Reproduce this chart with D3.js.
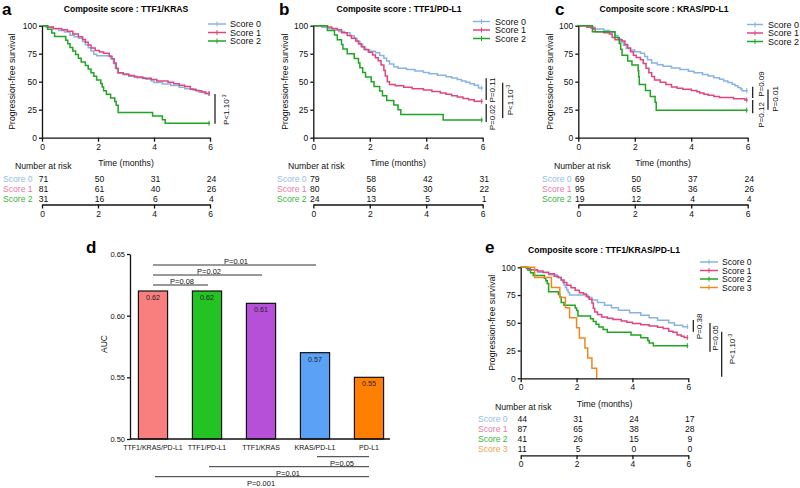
<!DOCTYPE html>
<html>
<head>
<meta charset="utf-8">
<script src="https://cdn.jsdelivr.net/npm/d3@7"></script>
<style>
  body { margin: 0; background: #fff; }
  svg { display: block; font-family: "Liberation Sans", Arial, Helvetica, sans-serif; }
</style>
</head>
<body>
<svg id="chart" width="800" height="488"></svg>
<script>
// ---------------- shared ----------------
const timeTicks = [0, 2, 4, 6];
const survivalTicks = [0, 25, 50, 75, 100];
const scoreLabels = ["Score 0", "Score 1", "Score 2", "Score 3"];

// ---------------- panel a : TTF1/KRAS ----------------
const aTitle = "Composite score : TTF1/KRAS";
const aScore0 = [[0,100],[0.15,98.6],[0.4,97.2],[0.6,95.8],[0.8,94.4],[1.0,91.5],[1.15,90.1],[1.3,88.7],[1.45,85.9],[1.55,83.1],[1.65,80.3],[1.75,77.5],[1.85,74.6],[1.95,73.2],[2.45,70.4],[2.55,66.2],[2.62,62],[2.7,57.7],[2.9,56.3],[3.1,54.9],[3.4,53.5],[3.7,52.1],[3.9,50.7],[4.0,49.3],[4.3,47.9],[4.6,46.5],[4.9,45.1],[5.1,43.7],[5.4,42.3],[5.6,40.8],[5.8,39.4]];
const aScore1 = [[0,100],[0.2,98.8],[0.4,97.5],[0.7,96.3],[0.9,95.1],[1.1,92.6],[1.3,90.1],[1.45,87.7],[1.55,85.2],[1.65,82.7],[1.75,80.2],[1.9,77.8],[2.05,76.5],[2.2,75.3],[2.4,72.8],[2.5,70.4],[2.58,66.7],[2.65,61.7],[2.72,58],[2.9,56.8],[3.1,55.6],[3.3,54.3],[3.6,53.1],[3.9,51.9],[4.1,50.6],[4.5,49.4],[4.7,48.1],[4.9,46.9],[5.1,45.7],[5.3,43.2],[5.5,42],[5.7,40.7],[5.85,39.5]];
const aScore2 = [[0,100],[0.2,96.8],[0.35,93.5],[0.45,90.3],[0.85,87.1],[0.92,83.9],[1.0,80.6],[1.1,77.4],[1.2,74.2],[1.3,71],[1.4,67.7],[1.55,64.5],[1.65,61.3],[1.75,58.1],[1.85,54.8],[1.95,51.6],[2.1,48.4],[2.15,45.2],[2.2,41.9],[2.3,38.7],[2.45,35.5],[2.6,32.3],[2.65,29],[2.72,22.6],[3.95,19.4],[4.3,16.1],[4.4,12.9]];
const aRisk0 = [71, 50, 31, 24];
const aRisk1 = [81, 61, 40, 26];
const aRisk2 = [31, 16, 6, 4];
const aPvalues = [["P<1.10", "-3", 39, 12.5]];

// ---------------- panel b : TTF1/PD-L1 ----------------
const bTitle = "Composite score : TTF1/PD-L1";
const bScore0 = [[0,100],[0.3,98.7],[0.5,97.5],[0.7,96.2],[0.9,94.9],[1.1,93.7],[1.3,91.1],[1.45,88.6],[1.55,86.1],[1.65,83.5],[1.75,81],[1.85,78.5],[2.0,77.2],[2.2,75.9],[2.35,73.4],[2.5,70.9],[2.6,68.4],[2.7,65.8],[2.85,63.3],[3.0,62],[3.3,60.8],[3.6,59.5],[3.9,58.2],[4.1,57],[4.4,55.7],[4.7,54.4],[4.9,53.2],[5.1,51.9],[5.25,50.6],[5.4,49.4],[5.55,48.1],[5.7,46.8],[5.85,44.3]];
const bScore1 = [[0,100],[0.5,98.8],[0.65,97.5],[0.85,96.3],[1.0,93.8],[1.2,91.3],[1.35,88.8],[1.5,86.3],[1.6,83.8],[1.7,81.3],[1.8,78.8],[1.95,76.3],[2.1,73.8],[2.2,71.3],[2.3,68.8],[2.4,65],[2.5,60],[2.55,55],[2.62,50],[2.7,47.5],[2.9,46.3],[3.2,45],[3.5,43.8],[3.9,42.5],[4.2,41.3],[4.5,40],[4.7,38.8],[4.9,37.5],[5.1,36.3],[5.3,35],[5.5,33.8],[5.7,32.5]];
const bScore2 = [[0,100],[0.5,95.8],[0.75,91.7],[0.85,87.5],[1.0,83.3],[1.05,79.2],[1.2,75],[1.45,70.8],[1.6,66.7],[1.65,62.5],[1.75,58.3],[1.85,54.2],[2.05,50],[2.15,45.8],[2.35,41.7],[2.45,37.5],[2.6,33.3],[2.85,29.2],[3.0,25],[3.1,20.8],[4.6,15.8]];
const bRisk0 = [79, 58, 42, 31];
const bRisk1 = [80, 56, 30, 22];
const bRisk2 = [24, 13, 5, 1];
const bPvalues = [["P=0.11", "", 53, 33.7], ["P=0.02", "", 30, 14], ["P<1.10", "-3", 49, 17.6]];

// ---------------- panel c : KRAS/PD-L1 ----------------
const cTitle = "Composite score : KRAS/PD-L1";
const cScore0 = [[0,100],[0.3,98.6],[0.6,97.1],[0.9,95.7],[1.1,94.2],[1.3,91.3],[1.4,88.4],[1.5,85.5],[1.6,82.6],[1.7,79.7],[1.85,78.3],[2.0,76.8],[2.2,75.4],[2.35,72.5],[2.45,69.6],[2.6,66.7],[2.8,65.2],[3.0,63.8],[3.3,62.3],[3.6,60.9],[3.9,59.4],[4.1,58],[4.4,56.5],[4.6,55.1],[4.8,53.6],[5.0,52.2],[5.15,50.7],[5.3,49.3],[5.45,47.8],[5.55,46.4],[5.65,44.9],[5.75,43.5],[5.8,42]];
const cScore1 = [[0,100],[0.3,98.9],[0.45,97.9],[0.55,96.8],[0.6,94.7],[0.9,93.7],[1.1,92.6],[1.2,89.5],[1.3,87.4],[1.55,86.3],[1.65,83.2],[1.75,80],[1.85,76.8],[1.95,73.7],[2.05,71.6],[2.2,69.5],[2.3,66.3],[2.4,62.1],[2.5,57.9],[2.6,54.7],[2.7,51.6],[2.9,49.5],[3.1,47.4],[3.3,45.3],[3.5,44.2],[3.7,43.2],[4.0,42.1],[4.2,41.1],[4.3,40],[4.45,38.9],[4.6,37.9],[4.8,36.8],[5.0,35.8],[5.5,34.7],[5.9,33.7]];
const cScore2 = [[0,100],[0.5,94.7],[1.3,89.5],[1.45,84.2],[1.5,78.9],[1.55,73.7],[1.75,68.4],[1.9,65],[2.12,59.7],[2.14,54.4],[2.16,47.4],[2.38,42.1],[2.55,36.8],[2.72,31.6],[2.76,24.6]];
const cRisk0 = [69, 50, 37, 24];
const cRisk1 = [95, 65, 36, 26];
const cRisk2 = [19, 12, 4, 4];
const cPvalues = [["P=0.09", "", 45.5, 35.4], ["P=0.12", "", 33.7, 21.8], ["P=0.01", "", 43, 25]];

// ---------------- panel e : TTF1/KRAS/PD-L1 ----------------
const eTitle = "Composite score : TTF1/KRAS/PD-L1";
const eScore0 = [[0,100],[0.3,97.7],[0.6,95.5],[1.0,93.2],[1.3,90.9],[1.45,88.6],[1.5,86.4],[1.55,84.1],[1.6,81.8],[1.65,79.5],[1.7,77.3],[1.75,75],[2.4,72.7],[2.55,70.5],[2.75,68.2],[3.0,65.9],[3.25,63.6],[3.5,61.4],[3.9,59.1],[4.3,56.8],[4.6,54.5],[4.9,52.3],[5.3,50],[5.5,47.7],[5.8,46.5]];
const eScore1 = [[0,100],[0.2,98.9],[0.35,97.7],[0.6,96.6],[0.8,95.4],[1.0,94.3],[1.2,92],[1.35,90.8],[1.45,88.5],[1.55,86.2],[1.65,83.9],[1.8,81.6],[1.95,79.3],[2.1,77],[2.25,75.9],[2.35,73.6],[2.45,71.3],[2.55,67.8],[2.6,63.2],[2.65,59.8],[2.75,57.5],[2.9,55.2],[3.1,54],[3.3,52.9],[3.6,51.7],[3.8,50.6],[4.0,49.4],[4.3,48.3],[4.6,47.1],[4.9,46],[5.1,44.8],[5.3,42.5],[5.45,41.4],[5.6,39.1],[5.75,37.9],[5.85,36.8]];
const eScore2 = [[0,100],[0.25,97.6],[0.35,95.1],[0.45,92.7],[0.85,90.2],[0.9,87.8],[0.95,85.4],[1.0,78],[1.35,75.6],[1.4,73.2],[1.45,68.3],[1.55,65.9],[1.95,63.4],[2.0,61],[2.05,56.1],[2.5,53.7],[2.6,51.2],[2.7,48.8],[2.8,46.3],[2.95,43.9],[3.1,41.5],[3.95,39],[4.3,36.6],[4.55,34.1],[4.6,31.7],[4.75,29.3]];
const eScore3 = [[0,100],[0.5,90.9],[1.1,81.8],[1.4,72.7],[1.6,63.6],[1.75,54.5],[2.0,45.5],[2.1,36.4],[2.3,27.3],[2.4,18.2],[2.55,9.1],[2.72,0]];
const eRisk0 = [44, 31, 24, 17];
const eRisk1 = [87, 65, 38, 28];
const eRisk2 = [41, 26, 15, 9];
const eRisk3 = [11, 5, 0, 0];
const ePvalues = [["P=0.38", "", 52.5, 42], ["P=0.05", "", 49.8, 24], ["P<1.10", "-3", 42, 1.4]];

// ---------------- panel d : AUC ----------------
const aucModels = ["TTF1/KRAS/PD-L1", "TTF1/PD-L1", "TTF1/KRAS", "KRAS/PD-L1", "PD-L1"];
const aucValues = [0.62, 0.62, 0.61, 0.57, 0.55];
const aucTicks = [0.50, 0.55, 0.60, 0.65];
const aucCompareTop = [[0, 1, "P=0.08"], [0, 2, "P=0.02"], [0, 3, "P=0.01"]];
const aucCompareBottom = [[3, 4, "P=0.05"], [1, 4, "P=0.01"], [0, 4, "P=0.001"]];

// ---------------- styles ----------------
const curveColors = ["#88b4e2", "#e0457c", "#22a424", "#f0891c"];
const riskLabelColors = ["#95bde6", "#e67ea8", "#3db53d", "#f2a452"];
const barColors = ["#f97f7f", "#22c322", "#b650d8", "#5ba2f6", "#ff8000"];

const svg = d3.select("#chart");

function styleAxis(sel, fs) {
  sel.selectAll("path.domain, line").attr("stroke", "#111").attr("stroke-width", 1.3);
  sel.selectAll("text").attr("font-size", fs).attr("fill", "#111");
}

function drawKM(p) {
  const g = svg.append("g");
  const x = d3.scaleLinear().domain([0, 6]).range([p.x0, p.x1]);
  const y = d3.scaleLinear().domain([0, 100]).range([p.yb, p.yt]);
  const fmt = d3.format("d");

  // panel letter + title
  g.append("text").attr("x", p.letterX).attr("y", p.letterY).attr("font-size", 17)
    .attr("font-weight", "bold").text(p.letter);
  g.append("text").attr("x", p.titleX).attr("y", p.titleY).attr("text-anchor", "middle")
    .attr("font-size", p.titleFs).attr("font-weight", "bold").text(p.title);

  // curves
  const line = d3.line().x(d => x(d[0])).y(d => y(d[1])).curve(d3.curveStepAfter);
  p.curves.forEach((c, i) => {
    const last = c[c.length - 1];
    const pts = last[1] > 0 ? c.concat([[6, last[1]]]) : c;
    g.append("path").attr("d", line(pts)).attr("fill", "none")
      .attr("stroke", curveColors[i]).attr("stroke-width", 1.5);
    if (last[1] > 0) {
      g.append("line").attr("x1", x(6) - 1).attr("x2", x(6) - 1)
        .attr("y1", y(last[1]) - 2.5).attr("y2", y(last[1]) + 2.5)
        .attr("stroke", curveColors[i]).attr("stroke-width", 1);
    }
  });

  // axes
  const ay = g.append("g").attr("transform", `translate(${p.x0},0)`)
    .call(d3.axisLeft(y).tickValues(survivalTicks).tickFormat(fmt).tickSize(3).tickSizeOuter(0).tickPadding(2));
  styleAxis(ay, p.tickFs);
  const ax = g.append("g").attr("transform", `translate(0,${p.yb})`)
    .call(d3.axisBottom(x).tickValues(timeTicks).tickFormat(fmt).tickSize(4).tickSizeOuter(0).tickPadding(2));
  styleAxis(ax, p.tickFs);

  g.append("text")
    .attr("transform", `translate(${p.ylabX},${(p.yt + p.yb) / 2}) rotate(-90)`)
    .attr("text-anchor", "middle").attr("dy", "0.35em").attr("font-size", p.labelFs)
    .attr("fill", "#111").text("Progression-free survival");
  g.append("text").attr("x", (p.x0 + p.x1) / 2).attr("y", p.timeY).attr("text-anchor", "middle")
    .attr("font-size", p.labelFs).attr("fill", "#111").text("Time (months)");

  // legend
  p.curves.forEach((c, i) => {
    const ly = p.legY[i];
    g.append("line").attr("x1", p.legX0).attr("x2", p.legX1).attr("y1", ly).attr("y2", ly)
      .attr("stroke", curveColors[i]).attr("stroke-width", 1.5);
    g.append("line").attr("x1", (p.legX0 + p.legX1) / 2).attr("x2", (p.legX0 + p.legX1) / 2)
      .attr("y1", ly - 2.5).attr("y2", ly + 2.5).attr("stroke", curveColors[i]).attr("stroke-width", 1);
    g.append("text").attr("x", p.legTX).attr("y", ly).attr("dy", "0.35em")
      .attr("font-size", p.legFs).attr("fill", "#111").text(scoreLabels[i]);
  });

  // p-values
  p.pvals.forEach((pv, i) => {
    const L = p.pLayout[i];
    const lx = x(6) + L.dx;
    g.append("line").attr("x1", lx).attr("x2", lx).attr("y1", y(pv[2])).attr("y2", y(pv[3]))
      .attr("stroke", "#111").attr("stroke-width", 1.2);
    const t = g.append("text")
      .attr("transform", `translate(${x(6) + L.tx},${y(L.tc)}) rotate(-90)`)
      .attr("text-anchor", "middle").attr("dy", "0.35em").attr("font-size", p.pFs).attr("fill", "#111");
    t.append("tspan").text(pv[0]);
    if (pv[1]) t.append("tspan").attr("dy", "-3").attr("font-size", p.pFs * 0.7).text(pv[1]);
  });

  // number at risk table
  g.append("text").attr("x", p.nrX).attr("y", p.nrY).attr("font-size", p.labelFs)
    .attr("fill", "#111").text("Number at risk");
  p.risks.forEach((r, i) => {
    const ry = p.riskY0 + i * p.riskDy;
    g.append("text").attr("x", p.riskLabX).attr("y", ry).attr("font-size", p.riskFs)
      .attr("fill", riskLabelColors[i]).text(scoreLabels[i]);
    r.forEach((v, j) => {
      g.append("text").attr("x", x(timeTicks[j]) + 1.5).attr("y", ry).attr("text-anchor", "middle")
        .attr("font-size", p.riskFs).attr("fill", "#111").text(v);
    });
  });
  const rax = g.append("g").attr("transform", `translate(0,${p.riskAxisY})`)
    .call(d3.axisBottom(x).tickValues(timeTicks).tickFormat(fmt).tickSize(4).tickSizeOuter(0).tickPadding(2));
  styleAxis(rax, p.tickFs);
}

const common = { yt: 25.7, yb: 137.7, titleY: 12, titleFs: 8.6, tickFs: 8.5, labelFs: 8.7,
  legFs: 9, pFs: 8, riskFs: 8.6, timeY: 166, nrY: 169, riskY0: 182, riskDy: 10, riskAxisY: 204.5 };

drawKM(Object.assign({}, common, {
  letter: "a", letterX: 2, letterY: 15, title: aTitle, titleX: 126,
  x0: 42, x1: 210, ylabX: 12,
  curves: [aScore0, aScore1, aScore2], risks: [aRisk0, aRisk1, aRisk2],
  legX0: 208, legX1: 226, legTX: 230, legY: [24, 32.5, 41],
  pvals: aPvalues, pLayout: [{ dx: 5, tx: 16, tc: 25 }],
  nrX: 15, riskLabX: 3
}));

drawKM(Object.assign({}, common, {
  letter: "b", letterX: 279, letterY: 15, title: bTitle, titleX: 399,
  x0: 313.3, x1: 482.7, ylabX: 285,
  curves: [bScore0, bScore1, bScore2], risks: [bRisk0, bRisk1, bRisk2],
  legX0: 473, legX1: 490, legTX: 495, legY: [21.5, 30, 38.5],
  pvals: bPvalues, pLayout: [{ dx: 3.5, tx: 9, tc: 42.6 }, { dx: 3.5, tx: 9, tc: 18 }, { dx: 20, tx: 27, tc: 33.7 }],
  nrX: 288, riskLabX: 277
}));

drawKM(Object.assign({}, common, {
  letter: "c", letterX: 555, letterY: 15, title: cTitle, titleX: 664,
  x0: 578.3, x1: 747.7, ylabX: 550,
  curves: [cScore0, cScore1, cScore2], risks: [cRisk0, cRisk1, cRisk2],
  legX0: 747, legX1: 763, legTX: 768, legY: [24.5, 33, 41.5],
  pvals: cPvalues, pLayout: [{ dx: 5, tx: 13.3, tc: 47.9 }, { dx: 5, tx: 13.3, tc: 20.3 }, { dx: 20.3, tx: 27.3, tc: 34.6 }],
  nrX: 554, riskLabX: 542
}));

drawKM(Object.assign({}, common, {
  letter: "e", letterX: 485, letterY: 253, title: eTitle, titleX: 604, titleY: 253,
  x0: 520.7, x1: 688.3, yt: 267.3, yb: 378.3, ylabX: 492,
  curves: [eScore0, eScore1, eScore2, eScore3], risks: [eRisk0, eRisk1, eRisk2, eRisk3],
  legX0: 700, legX1: 718, legTX: 722, legY: [262, 270.5, 279, 287.5], legFs: 8.6,
  pvals: ePvalues, pLayout: [{ dx: 5, tx: 10.7, tc: 46.7 }, { dx: 21.7, tx: 26.4, tc: 36.3 }, { dx: 33.4, tx: 44.2, tc: 26.4 }],
  timeY: 407, nrX: 495, nrY: 409.5, riskLabX: 478, riskY0: 422, riskDy: 10, riskAxisY: 455.3
}));

// ---------------- panel d ----------------
(function drawAUC() {
  const g = svg.append("g");
  const xb = d3.scaleBand().domain(aucModels).range([126, 396]).paddingInner(0.46).paddingOuter(0.23);
  const yb = d3.scaleLinear().domain([0.5, 0.65]).range([439, 254]);
  const axisX = 130;

  g.append("text").attr("x", 86).attr("y", 253).attr("font-size", 17).attr("font-weight", "bold").text("d");

  aucModels.forEach((m, i) => {
    g.append("rect").attr("x", xb(m)).attr("y", yb(aucValues[i]))
      .attr("width", xb.bandwidth()).attr("height", yb(0.5) - yb(aucValues[i]))
      .attr("fill", barColors[i]).attr("stroke", "#111").attr("stroke-width", 1.2);
    g.append("text").attr("x", xb(m) + xb.bandwidth() / 2).attr("y", yb(aucValues[i]) + 9)
      .attr("text-anchor", "middle").attr("font-size", 7.2).attr("fill", "#222")
      .text(aucValues[i].toFixed(2));
  });

  const ay = g.append("g").attr("transform", `translate(${axisX},0)`)
    .call(d3.axisLeft(yb).tickValues(aucTicks).tickFormat(d3.format(".2f")).tickSize(3).tickSizeOuter(0).tickPadding(2));
  styleAxis(ay, 7.5);

  const ax = g.append("g").attr("transform", `translate(0,${yb(0.5)})`)
    .call(d3.axisBottom(xb).tickSize(0).tickPadding(6));
  ax.select(".domain").remove();
  styleAxis(ax, 7);
  g.append("line").attr("x1", axisX).attr("x2", xb.range()[1] - 6).attr("y1", yb(0.5)).attr("y2", yb(0.5))
    .attr("stroke", "#111").attr("stroke-width", 1.3);

  g.append("text").attr("transform", `translate(104,344) rotate(-90)`).attr("text-anchor", "middle")
    .attr("dy", "0.35em").attr("font-size", 8.5).attr("fill", "#111").text("AUC");

  const cx = i => xb(aucModels[i]) + xb.bandwidth() / 2;
  const topBase = yb(d3.max(aucValues)) - 6;
  aucCompareTop.forEach((c, k) => {
    const ly = topBase - 10 * k;
    g.append("line").attr("x1", cx(c[0])).attr("x2", cx(c[1]) + 1).attr("y1", ly).attr("y2", ly)
      .attr("stroke", "#333").attr("stroke-width", 1);
    g.append("text").attr("x", (cx(c[0]) + cx(c[1])) / 2 + 2).attr("y", ly - 1)
      .attr("text-anchor", "middle").attr("font-size", 7.5).attr("fill", "#111").text(c[2]);
  });
  const botBase = yb(0.5) + 17.7;
  aucCompareBottom.forEach((c, k) => {
    const ly = botBase + 10 * k;
    g.append("line").attr("x1", cx(c[0]) + 2).attr("x2", cx(c[1])).attr("y1", ly).attr("y2", ly)
      .attr("stroke", "#333").attr("stroke-width", 1);
    g.append("text").attr("x", (cx(c[0]) + cx(c[1])) / 2).attr("y", ly + 9.5)
      .attr("text-anchor", "middle").attr("font-size", 7.5).attr("fill", "#111").text(c[2]);
  });
})();
</script>
</body>
</html>
